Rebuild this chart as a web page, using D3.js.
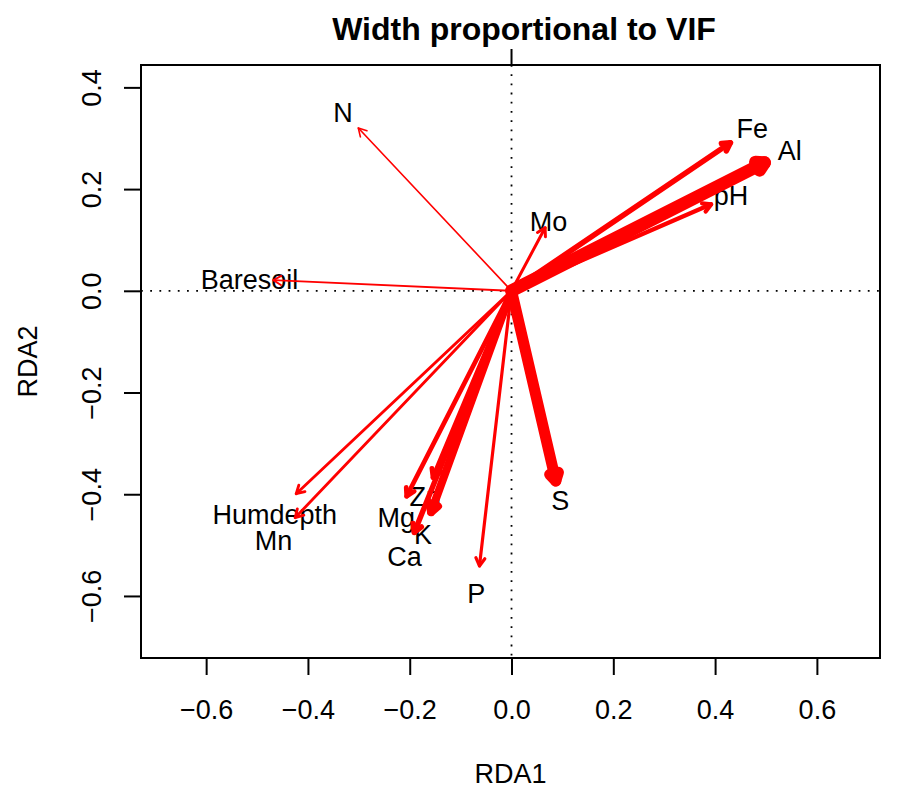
<!DOCTYPE html>
<html>
<head>
<meta charset="utf-8">
<script src="https://cdn.jsdelivr.net/npm/d3@7"></script>
<style>
  html, body { margin: 0; padding: 0; background: #ffffff; }
  svg { display: block; font-family: "Liberation Sans", Arial, Helvetica, sans-serif; }
</style>
</head>
<body>
<svg id="chart" width="903" height="787"></svg>
<script>
// ---- data ----
const variables = ["N", "Baresoil", "Mo", "Fe", "Al", "pH", "Humdepth", "Mn", "Mg", "Zn", "K", "Ca", "P", "S"];
const rda1 = [-0.301, -0.468, 0.066, 0.430, 0.497, 0.392, -0.423, -0.425, -0.206, -0.154, -0.158, -0.191, -0.063, 0.087];
const rda2 = [0.320, 0.021, 0.124, 0.291, 0.252, 0.170, -0.399, -0.446, -0.404, -0.367, -0.435, -0.475, -0.541, -0.374];
// VIF
const vif = [2.7, 3.3, 5.0, 9.2, 21.5, 7.2, 4.7, 4.7, 7.8, 8.3, 13.5, 9.0, 5.3, 18.4];
const xTicks = [-0.6, -0.4, -0.2, 0.0, 0.2, 0.4, 0.6];
const yTicks = [-0.6, -0.4, -0.2, 0.0, 0.2, 0.4];
const titleText = "Width proportional to VIF";
const xLabel = "RDA1";
const yLabel = "RDA2";
const labelMult = 1.1;

// ---- layout ----
const svg = d3.select("#chart");
const box = { left: 141, right: 880, top: 65, bottom: 658 };
const x = d3.scaleLinear().domain([-0.728, 0.724]).range([box.left, box.right]);
const y = d3.scaleLinear().domain([-0.722, 0.444]).range([box.bottom, box.top]);
const widthScale = d3.scaleLinear().domain([0, 1]).range([0, 0.6]);
const fmt = d3.format(".1f");
const FS = 27;
const red = "#ff0000";

// dotted reference lines
svg.append("line")
  .attr("x1", x(0)).attr("x2", x(0)).attr("y1", box.top).attr("y2", box.bottom)
  .attr("stroke", "#000").attr("stroke-width", 1.8).attr("stroke-dasharray", "1.8 7.4");
svg.append("line")
  .attr("x1", box.left).attr("x2", box.right).attr("y1", y(0)).attr("y2", y(0))
  .attr("stroke", "#000").attr("stroke-width", 1.8).attr("stroke-dasharray", "1.8 7.4");

// labels (drawn under arrows)
const data = variables.map((v, i) => ({ name: v, x: rda1[i], y: rda2[i], vif: vif[i] }));
svg.append("g").selectAll("text").data(data).join("text")
  .attr("x", d => x(d.x * labelMult))
  .attr("y", d => y(d.y * labelMult))
  .attr("dy", "0.36em")
  .attr("text-anchor", "middle")
  .attr("font-size", FS)
  .attr("fill", "#000")
  .text(d => d.name);

// arrows
const headLen = 9, headAng = Math.PI / 6;
const ag = svg.append("g");
data.forEach(d => {
  const x0 = x(0), y0 = y(0), x1 = x(d.x), y1 = y(d.y);
  const w = widthScale(d.vif);
  const ang = Math.atan2(y1 - y0, x1 - x0);
  ag.append("line")
    .attr("x1", x0).attr("y1", y0).attr("x2", x1).attr("y2", y1)
    .attr("stroke", red).attr("stroke-width", w).attr("stroke-linecap", "round");
  const bx1 = x1 - headLen * Math.cos(ang - headAng), by1 = y1 - headLen * Math.sin(ang - headAng);
  const bx2 = x1 - headLen * Math.cos(ang + headAng), by2 = y1 - headLen * Math.sin(ang + headAng);
  ag.append("path")
    .attr("d", `M${bx1},${by1}L${x1},${y1}L${bx2},${by2}`)
    .attr("fill", "none").attr("stroke", red).attr("stroke-width", w)
    .attr("stroke-linecap", "round").attr("stroke-linejoin", "round");
});

// box
svg.append("rect")
  .attr("x", box.left).attr("y", box.top)
  .attr("width", box.right - box.left).attr("height", box.bottom - box.top)
  .attr("fill", "none").attr("stroke", "#000").attr("stroke-width", 2);

// top tick at zero
svg.append("line")
  .attr("x1", x(0)).attr("x2", x(0)).attr("y1", box.top - 16).attr("y2", box.top)
  .attr("stroke", "#000").attr("stroke-width", 2);

// x axis
const xAxis = svg.append("g").attr("transform", `translate(0,${box.bottom})`)
  .call(d3.axisBottom(x).tickValues(xTicks).tickSize(17).tickFormat(fmt));
xAxis.select(".domain").remove();
xAxis.selectAll(".tick line").attr("stroke", "#000").attr("stroke-width", 2);
xAxis.selectAll(".tick text")
  .attr("y", 61).attr("dy", null)
  .attr("font-size", FS).attr("font-family", null).attr("fill", "#000");

// y axis
const yAxis = svg.append("g").attr("transform", `translate(${box.left},0)`)
  .call(d3.axisLeft(y).tickValues(yTicks).tickSize(17).tickFormat(fmt));
yAxis.select(".domain").remove();
yAxis.selectAll(".tick line").attr("stroke", "#000").attr("stroke-width", 2);
yAxis.selectAll(".tick text")
  .attr("x", null).attr("y", null).attr("dy", null)
  .attr("text-anchor", "middle")
  .attr("transform", "translate(-40,0) rotate(-90)")
  .attr("font-size", FS).attr("font-family", null).attr("fill", "#000");

// titles
svg.append("text")
  .attr("x", 524).attr("y", 39.5).attr("text-anchor", "middle")
  .attr("font-size", 32).attr("font-weight", "bold").text(titleText);
svg.append("text")
  .attr("x", (box.left + box.right) / 2).attr("y", 783).attr("text-anchor", "middle")
  .attr("font-size", FS).text(xLabel);
svg.append("text")
  .attr("transform", `translate(37,${(box.top + box.bottom) / 2}) rotate(-90)`)
  .attr("text-anchor", "middle")
  .attr("font-size", FS).text(yLabel);
</script>
</body>
</html>
